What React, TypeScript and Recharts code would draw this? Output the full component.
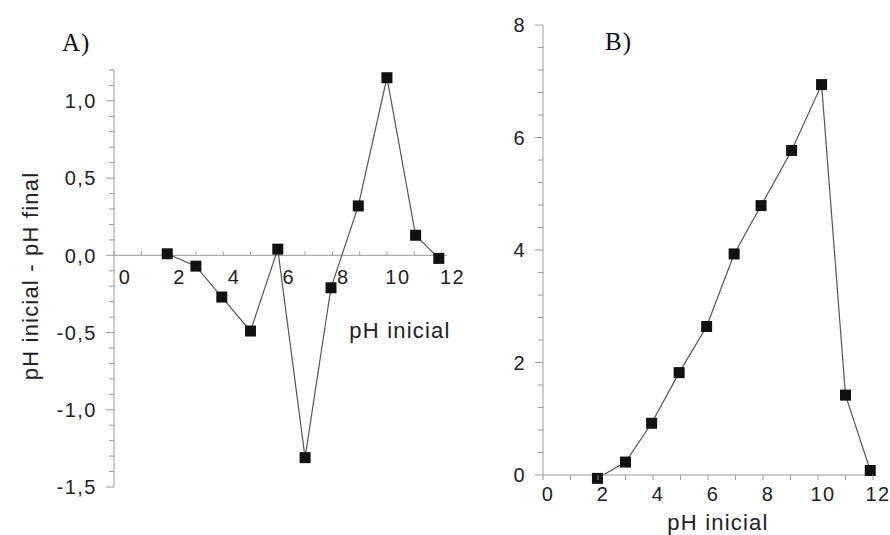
import React from 'react';
import { LineChart, Line, XAxis, YAxis, ReferenceLine, ReferenceDot } from 'recharts';

// panel A: pH inicial vs (pH inicial - pH final)
const phA = [1.95, 3.0, 3.95, 5.0, 6.0, 7.0, 7.95, 8.95, 10.0, 11.05, 11.9];
const deltaA = [0.01, -0.07, -0.27, -0.49, 0.04, -1.31, -0.21, 0.32, 1.15, 0.13, -0.02];

// panel B
const phB = [1.98, 3.0, 3.95, 4.95, 5.95, 6.95, 7.93, 9.04, 10.13, 11.0, 11.9];
const valB = [-0.06, 0.23, 0.92, 1.82, 2.64, 3.93, 4.79, 5.77, 6.94, 1.42, 0.08];

const xTicks = [0, 1, 2, 3, 4, 5, 6, 7, 8, 9, 10, 11, 12];
const xLabels = [0, 2, 4, 6, 8, 10, 12];
const yMajorA = [-1.5, -1, -0.5, 0, 0.5, 1];
const yMajorB = [0, 2, 4, 6, 8];

const stepTicks = (from: number, to: number, step: number) => {
  const n = Math.round((to - from) / step);
  return Array.from({ length: n + 1 }, (_, i) => +(from + i * step).toFixed(2));
};
const yTicksA = stepTicks(-1.5, 1.2, 0.1);
const yTicksB = stepTicks(0, 8, 0.4);

const dataA = phA.map((x, i) => ({ x, y: deltaA[i] }));
const dataB = phB.map((x, i) => ({ x, y: valB[i] }));

const AXIS = '#9a9a9a';
const TXT = '#222';
const FONT = '"Liberation Sans", Arial, sans-serif';
const tickText = { fontFamily: FONT, fontSize: 20, fill: TXT, letterSpacing: 1.5 };
const titleText = { fontFamily: FONT, fontSize: 22, fill: TXT, letterSpacing: 1.2 };
const panelText = { fontFamily: '"Liberation Serif", "Times New Roman", serif', fontSize: 25, fill: '#111', letterSpacing: 1 };

const isIn = (list: number[], v: number) => list.some(m => Math.abs(m - v) < 1e-6);

const makeYTick = (majors: number[], fmt: (v: number) => string) => (props: any) => {
  const { x, y, payload } = props;
  const major = isIn(majors, payload.value);
  return (
    <g>
      <line x1={x - (major ? 8 : 5)} x2={x} y1={y} y2={y} stroke={AXIS} strokeWidth={1} />
      {major && (
        <text x={x - 17} y={y} dy="0.36em" textAnchor="end" style={tickText}>
          {fmt(payload.value)}
        </text>
      )}
    </g>
  );
};

const commaFmt = (v: number) => v.toFixed(1).replace('.', ',');

const Square = (props: any) => {
  const { cx, cy } = props;
  if (cx == null || cy == null) return <g />;
  return <rect x={cx - 5.5} y={cy - 5.5} width={11} height={11} fill="#111" />;
};

// x tick drawn on the zero line of panel A
const ZeroTick = (props: any) => {
  const { cx, cy, value } = props;
  return (
    <g>
      <line x1={cx} x2={cx} y1={cy} y2={cy - 4} stroke={AXIS} />
      {isIn(xLabels, value) && (
        <text x={cx + 11} y={cy + 29} textAnchor="middle" style={tickText}>
          {value}
        </text>
      )}
    </g>
  );
};

const BottomTick = (props: any) => {
  const { x, y, payload } = props;
  return (
    <g>
      <line x1={x} x2={x} y1={y} y2={y + 5} stroke={AXIS} />
      {isIn(xLabels, payload.value) && (
        <text x={x + 5} y={y + 26} textAnchor="middle" style={tickText}>
          {payload.value}
        </text>
      )}
    </g>
  );
};

const ChartA = () => (
  <LineChart width={480} height={535} data={dataA} margin={{ top: 70, right: 33, bottom: 48, left: 14 }}>
    <XAxis dataKey="x" type="number" domain={[0, 12.2]} hide />
    <YAxis
      type="number"
      domain={[-1.5, 1.2]}
      ticks={yTicksA}
      interval={0}
      width={100}
      tickSize={0}
      tickMargin={0}
      tickLine={false}
      axisLine={{ stroke: AXIS }}
      tick={makeYTick(yMajorA, commaFmt)}
    />
    <ReferenceLine y={0} stroke={AXIS} strokeWidth={1} />
    {xTicks.map(t => (
      <ReferenceDot key={t} x={t} y={0} r={0} shape={(p: any) => <ZeroTick {...p} value={t} />} />
    ))}
    <Line
      dataKey="y"
      type="linear"
      stroke="#555"
      strokeWidth={1.2}
      dot={(p: any) => <Square key={p.key} {...p} />}
      isAnimationActive={false}
    />
    <text x={30} y={276} dy="0.35em" textAnchor="middle" transform="rotate(-90, 30, 276)" style={titleText}>
      pH inicial - pH final
    </text>
    <text x={400} y={338} textAnchor="middle" style={titleText}>
      pH inicial
    </text>
    <text x={62} y={51} style={panelText}>
      A)
    </text>
  </LineChart>
);

const ChartB = () => (
  <LineChart width={410} height={535} data={dataB} margin={{ top: 25, right: 17, bottom: 20, left: 3 }}>
    <XAxis
      dataKey="x"
      type="number"
      domain={[0, 12]}
      ticks={xTicks}
      interval={0}
      height={40}
      tickSize={0}
      tickMargin={0}
      tickLine={false}
      axisLine={{ stroke: AXIS }}
      tick={BottomTick}
    />
    <YAxis
      type="number"
      domain={[0, 8]}
      allowDataOverflow
      ticks={yTicksB}
      interval={0}
      width={60}
      tickSize={0}
      tickMargin={0}
      tickLine={false}
      axisLine={{ stroke: AXIS }}
      tick={makeYTick(yMajorB, v => String(v))}
    />
    <Line dataKey="y" type="linear" stroke="#555" strokeWidth={1.2} dot={false} isAnimationActive={false} />
    {dataB.map((d, i) => (
      <ReferenceDot key={i} x={d.x} y={d.y} r={0} ifOverflow="visible" shape={Square} />
    ))}
    <text x={238} y={530} textAnchor="middle" style={titleText}>
      pH inicial
    </text>
    <text x={125} y={50} style={panelText}>
      B)
    </text>
  </LineChart>
);

export default function App() {
  return (
    <div style={{ position: 'absolute', left: 0, top: 0, width: 890, height: 535, background: '#fff', overflow: 'hidden' }}>
      <div style={{ position: 'absolute', left: 0, top: 0 }}>
        <ChartA />
      </div>
      <div style={{ position: 'absolute', left: 480, top: 0 }}>
        <ChartB />
      </div>
    </div>
  );
}
